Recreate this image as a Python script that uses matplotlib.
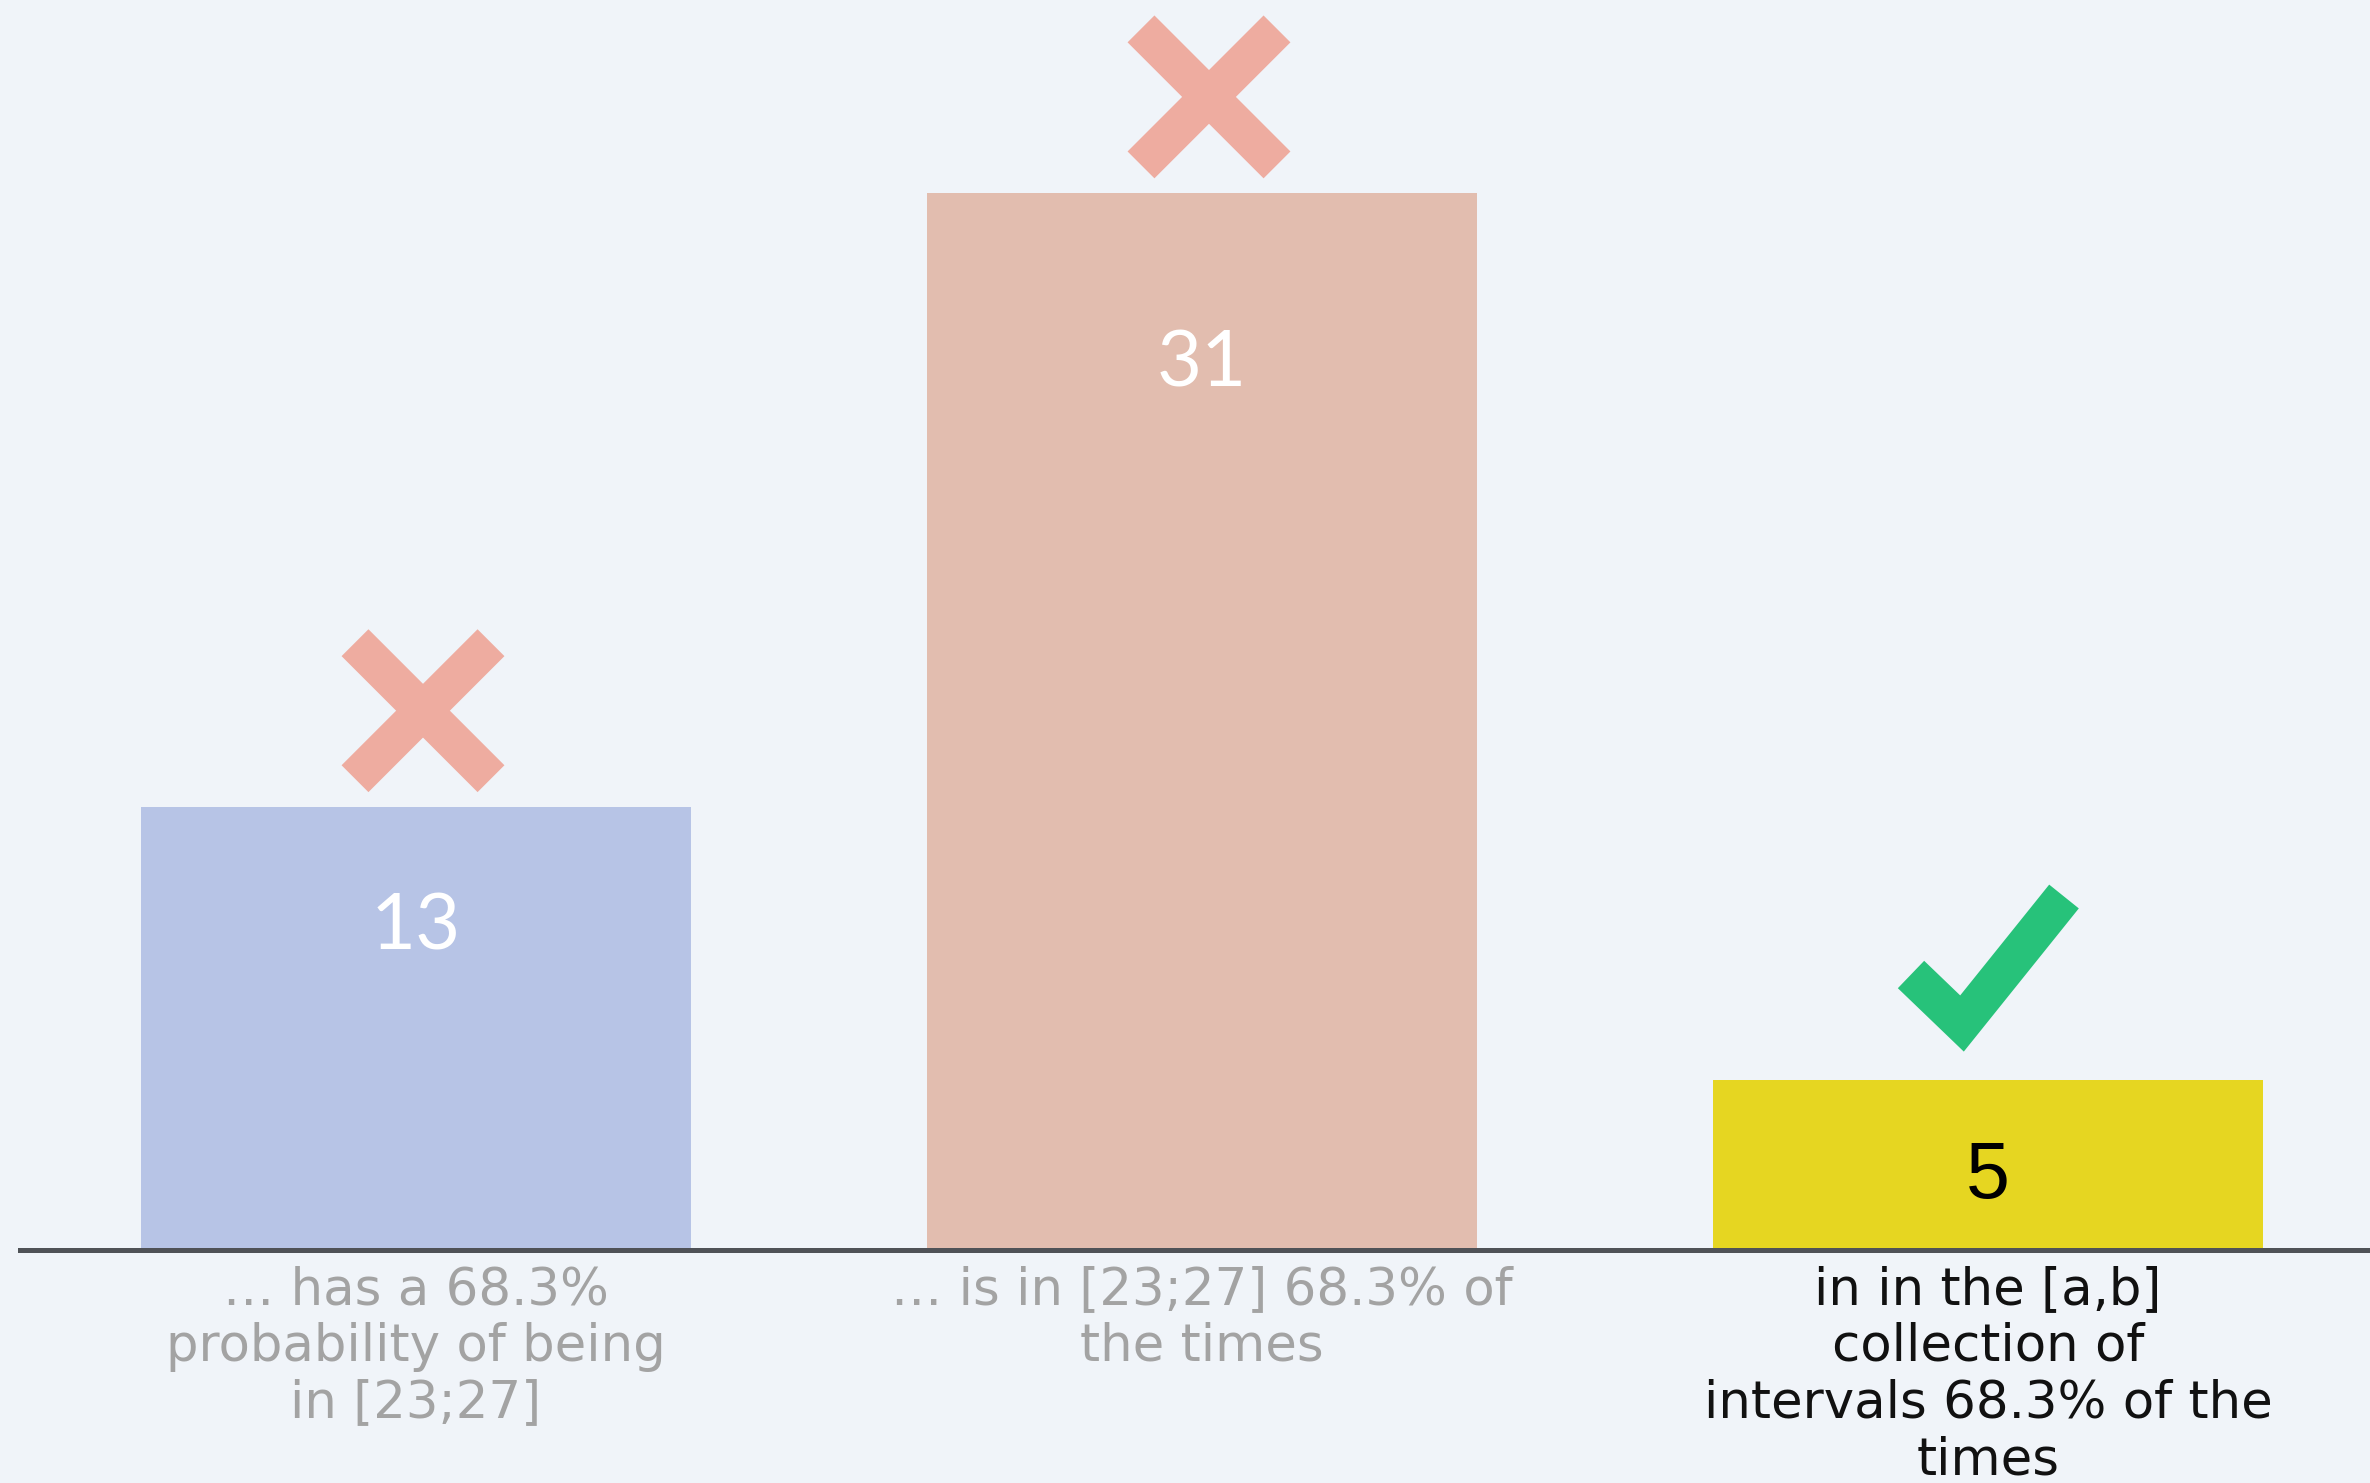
import matplotlib
matplotlib.use("Agg")
import matplotlib.pyplot as plt
import numpy as np

# ---- data ----
categories = [
    "\u2026 has a 68.3%\nprobability of being\nin [23;27]",
    "\u2026 is in [23;27] 68.3% of\nthe times",
    "in in the [a,b]\ncollection of\nintervals 68.3% of the\ntimes",
]
values = [13, 31, 5]
verdicts = ["wrong", "wrong", "right"]

# ---- styles ----
bar_colors = ["#b7c4e6", "#e2bdaf", "#e6d621"]
label_colors = ["#a3a3a3", "#a3a3a3", "#111111"]
value_colors = ["white", "white", "black"]
value_fonts = [("Lato", "normal", 56), ("Lato", "normal", 56), ("Liberation Sans", "normal", 57)]
value_drop_px = [121, 172, 98]          # label centre below bar top (pixels)
bg = "#f0f4f9"
cross_color = "#eeaca0"
check_color = "#27c27a"

W, H, DPI = 2370, 1483, 100
fig = plt.figure(figsize=(W / DPI, H / DPI), dpi=DPI, facecolor=bg)
base_px = 1250                 # baseline from top
px_per_unit = 34.1
left_px = 20
ax = fig.add_axes([left_px / W, (H - base_px) / H, 1 - left_px / W, base_px / H])
ax.set_facecolor(bg)

bar_spacing_px = 786
x0_px = 416
x = np.arange(len(values))
ax.set_xlim((left_px - x0_px) / bar_spacing_px, (W - x0_px) / bar_spacing_px)
ax.set_ylim(0, base_px / px_per_unit)

ax.bar(x, values, width=0.7, color=bar_colors, zorder=1)

for s in ["top", "left", "right"]:
    ax.spines[s].set_visible(False)
ax.spines["bottom"].set_color("#4f5257")
ax.spines["bottom"].set_linewidth(3.6)
ax.set_yticks([])
ax.set_xticks(x)
ax.set_xticklabels(categories, fontsize=37, linespacing=1.17, family="DejaVu Sans")
for lbl, c in zip(ax.get_xticklabels(), label_colors):
    lbl.set_color(c)
ax.tick_params(axis="x", length=0, pad=11)

# value labels
for xi, v, c, (fam, wt, fs), d in zip(x, values, value_colors, value_fonts, value_drop_px):
    ax.text(xi, v - d / px_per_unit, str(v), ha="center", va="center",
            fontsize=fs, color=c, family=fam, fontweight=wt, zorder=3)

# markers above bars (shape sizes in pixels converted to data units)
def pxx(p):
    return p / bar_spacing_px

def pxy(p):
    return p / px_per_unit

lw_pt = 38 * 72 / DPI
for xi, v, verdict in zip(x, values, verdicts):
    if verdict == "wrong":
        cx, cy = xi + pxx(7), v + pxy(96)
        h = 68
        ax.plot([cx - pxx(h), cx + pxx(h)], [cy + pxy(h), cy - pxy(h)],
                color=cross_color, lw=lw_pt, solid_capstyle="butt", zorder=3)
        ax.plot([cx - pxx(h), cx + pxx(h)], [cy - pxy(h), cy + pxy(h)],
                color=cross_color, lw=lw_pt, solid_capstyle="butt", zorder=3)
    else:
        pts_x = [xi + pxx(-77), xi + pxx(-26), xi + pxx(76)]
        pts_y = [v + pxy(105), v + pxy(56), v + pxy(183)]
        ax.plot(pts_x, pts_y, color=check_color, lw=lw_pt,
                solid_capstyle="butt", solid_joinstyle="miter", zorder=3)

fig.savefig("out.png", dpi=DPI, facecolor=bg)
